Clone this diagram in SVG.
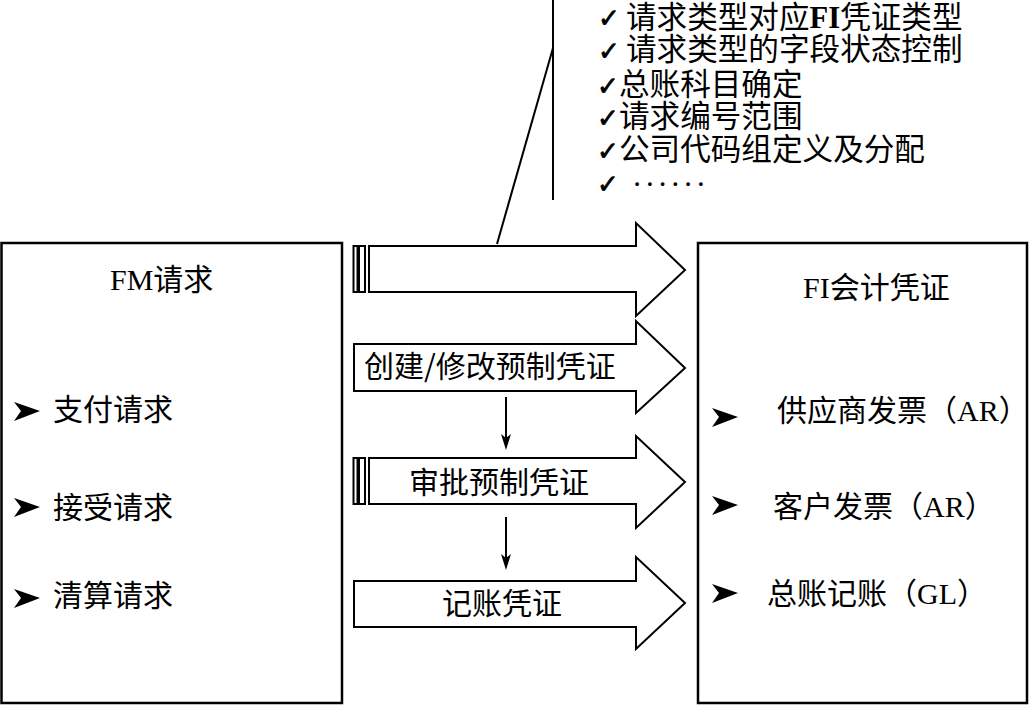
<svg xmlns="http://www.w3.org/2000/svg" width="1029" height="707" viewBox="0 0 1029 707">
<defs>
<style>
.box{fill:#fff;stroke:#000;stroke-width:2.5}
.arr{fill:#fff;stroke:#000;stroke-width:2;stroke-linejoin:miter}
.ln{fill:none;stroke:#000;stroke-width:2}
.t{font-family:"Liberation Serif","Noto Sans CJK SC",serif;font-size:30px;fill:#000}
.a{font-family:"Noto Sans CJK SC",sans-serif;font-size:30px;fill:#000;text-anchor:middle}
.l{font-family:"Liberation Serif","Noto Sans CJK SC",serif;font-size:30.6px;fill:#000}
.ck{font-family:"DejaVu Sans",sans-serif;font-size:26px;fill:#000;stroke:#000;stroke-width:0.8}
.bul{fill:#000}
</style>
<path id="bullet" class="bul" d="M0,0 L26,9 L0,19 L7,9 Z"/>
<path id="head" d="M-5,-14 L0,2 L5,-14 L0,-10 Z" fill="#000"/>
</defs>
<rect width="1029" height="707" fill="#fff"/>

<g id="fm-request">
<rect class="box" x="1.5" y="243" width="340.5" height="460"/>
<text class="t" x="110" y="290">FM请求</text>
<use href="#bullet" x="14" y="402"/>
<text class="t" x="53" y="420">支付请求</text>
<use href="#bullet" x="14" y="498"/>
<text class="t" x="53" y="518">接受请求</text>
<use href="#bullet" x="14" y="589"/>
<text class="t" x="53" y="606">清算请求</text>
</g>

<g id="fi-document">
<rect class="box" x="698" y="243" width="329" height="460"/>
<text class="t" x="803" y="298">FI会计凭证</text>
<use href="#bullet" x="712" y="408"/>
<text class="t" x="777" y="421">供应商发票（AR）</text>
<use href="#bullet" x="712" y="496"/>
<text class="t" x="773" y="517">客户发票（AR）</text>
<use href="#bullet" x="712" y="584"/>
<text class="t" x="767" y="604">总账记账（GL）</text>
</g>

<g id="config-list">
<text class="ck" x="598" y="27">✓</text>
<text class="l" x="626" y="28">请求类型对应<tspan font-weight="bold">FI</tspan>凭证类型</text>
<text class="ck" x="598" y="60">✓</text>
<text class="l" x="626" y="60">请求类型的字段状态控制</text>
<text class="ck" x="597" y="95">✓</text>
<text class="l" x="619" y="95">总账科目确定</text>
<text class="ck" x="597" y="127">✓</text>
<text class="l" x="619" y="127">请求编号范围</text>
<text class="ck" x="597" y="160">✓</text>
<text class="l" x="619" y="160">公司代码组定义及分配</text>
<text class="ck" x="597" y="193">✓</text>
<text class="l" x="632" y="195" textLength="74" lengthAdjust="spacing">······</text>
</g>

<g id="arrow-config">
<path class="arr" d="M369,246 H636 V223 L685,270 L636,316 V292 H369 Z"/>
<rect class="arr" x="353.5" y="246" width="4" height="46" stroke-width="1.5"/>
<rect class="arr" x="359" y="246" width="6" height="46" stroke-width="1.5"/>
</g>

<g id="arrow-create">
<path class="arr" d="M354,344 H636 V321 L685,368 L636,413 V391 H354 Z"/>
<text class="a" x="490" y="377">创建/修改预制凭证</text>
</g>

<g id="arrow-approve">
<path class="arr" d="M369,458 H636 V436 L685,482 L636,528 V504 H369 Z"/>
<rect class="arr" x="353.5" y="458" width="4" height="46" stroke-width="1.5"/>
<rect class="arr" x="359" y="458" width="6" height="46" stroke-width="1.5"/>
<text class="a" x="499" y="493">审批预制凭证</text>
</g>

<g id="arrow-post">
<path class="arr" d="M354,581 H636 V557 L685,603 L636,649 V627 H354 Z"/>
<text class="a" x="502" y="614">记账凭证</text>
</g>

<g id="connectors">
<line class="ln" x1="553" y1="0" x2="553" y2="200"/>
<line class="ln" x1="553" y1="48" x2="497" y2="244"/>
<line class="ln" x1="506" y1="397" x2="506" y2="440"/>
<use href="#head" x="506" y="448"/>
<line class="ln" x1="506" y1="517" x2="506" y2="560"/>
<use href="#head" x="506" y="568"/>
</g>
</svg>
